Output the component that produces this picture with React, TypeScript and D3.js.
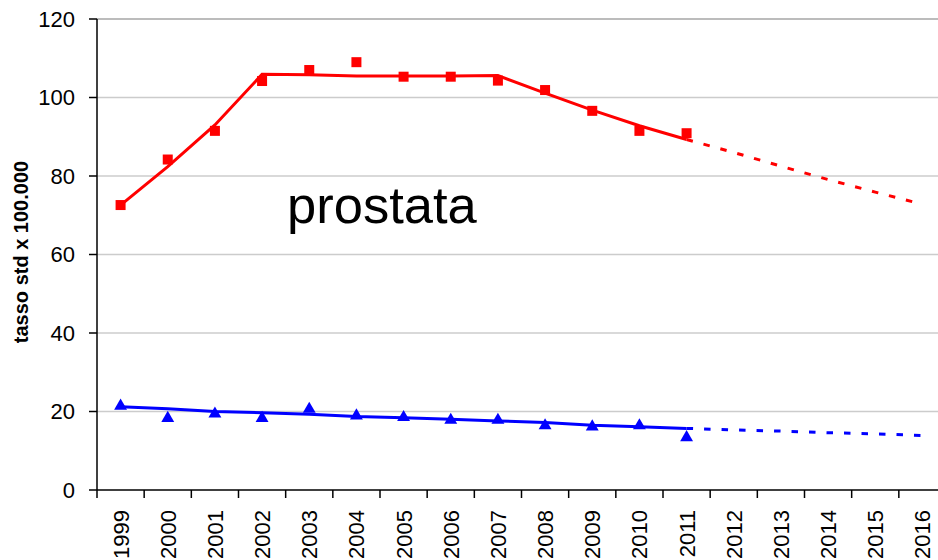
import React from "react";
import * as d3 from "d3";

const years = ["1999","2000","2001","2002","2003","2004","2005","2006","2007","2008","2009","2010","2011","2012","2013","2014","2015","2016"];
const yTicks = [0, 20, 40, 60, 80, 100, 120];

// observed rates (1999-2011)
const redObserved = [72.6, 84.2, 91.5, 104.2, 107.0, 109.0, 105.3, 105.3, 104.3, 101.9, 96.6, 91.5, 90.9];
const blueObserved = [21.4, 18.3, 19.4, 18.3, 20.6, 18.9, 18.5, 17.8, 17.8, 16.4, 16.1, 16.4, 13.4];

// fitted trend (1999-2011) and projection (2011-2016)
const redFit = [72.6, 82.4, 93.0, 105.9, 105.8, 105.5, 105.5, 105.5, 105.6, 101.1, 96.8, 92.8, 89.3];
const redProj = [89.3, 86.0, 82.5, 79.1, 75.9, 72.8];
const blueFit = [21.2, 20.7, 20.0, 19.7, 19.3, 18.7, 18.4, 18.0, 17.6, 17.2, 16.5, 16.1, 15.7];
const blueProj = [15.7, 15.3, 15.0, 14.6, 14.3, 13.9];

const title = "prostata";
const yLabel = "tasso std x 100.000";

const W = 938, H = 560;
const FONT = "Arial, 'Liberation Sans', sans-serif";

export default function App() {
  const x = d3.scaleBand<string>().domain(years).range([97, 946]).padding(0);
  const y = d3.scaleLinear().domain([0, 120]).range([490, 19]);
  const cx = (i: number) => (x(years[i]) as number) + x.bandwidth() / 2;

  const line = d3.line<[number, number]>().x(d => d[0]).y(d => d[1]);
  const fitPts = (arr: number[], offset: number) => arr.map((v, i) => [cx(i + offset), y(v)] as [number, number]);

  const triangle = d3.symbol().type(d3.symbolTriangle).size(72)();

  return (
    <svg width={W} height={H} style={{ position: "absolute", left: 0, top: 0, background: "#fff" }} fontFamily={FONT}>
      {/* gridlines */}
      {yTicks.filter(t => t > 0).map(t => (
        <line key={"g" + t} x1={97} x2={W} y1={y(t)} y2={y(t)} stroke={t === 120 ? "#a6a6a6" : "#cccccc"} strokeWidth={1.5} />
      ))}
      {/* y axis */}
      <line x1={97} x2={97} y1={y(120)} y2={y(0)} stroke="#000" strokeWidth={1.5} />
      {yTicks.map(t => (
        <g key={"yt" + t}>
          <line x1={89} x2={97} y1={y(t)} y2={y(t)} stroke="#000" strokeWidth={1.5} />
          <text x={75} y={y(t)} dy="0.36em" textAnchor="end" fontSize={22} fill="#000">{t}</text>
        </g>
      ))}
      {/* x axis */}
      <line x1={97} x2={W} y1={y(0)} y2={y(0)} stroke="#000" strokeWidth={1.5} />
      {years.map((yr, i) => (
        <g key={"xt" + yr}>
          <line x1={x(yr) as number} x2={x(yr) as number} y1={y(0)} y2={y(0) + 8} stroke="#000" strokeWidth={1.5} />
          <text transform={`translate(${cx(i)},510) rotate(-90)`} dy="0.36em" textAnchor="end" fontSize={22} fill="#000">{yr}</text>
        </g>
      ))}
      {/* y label */}
      <text transform={`translate(28,252) rotate(-90)`} textAnchor="middle" fontSize={20} fontWeight="bold" fill="#000">{yLabel}</text>

      {/* red series */}
      <path d={line(fitPts(redFit, 0)) || ""} fill="none" stroke="#ff0000" strokeWidth={3} />
      <path d={line(fitPts(redProj, 12)) || ""} fill="none" stroke="#ff0000" strokeWidth={3} strokeDasharray="6.5,11" />
      {redObserved.map((v, i) => (
        <rect key={"r" + i} x={cx(i) - 5} y={y(v) - 5} width={10} height={10} fill="#ff0000" />
      ))}

      {/* blue series */}
      <path d={line(fitPts(blueFit, 0)) || ""} fill="none" stroke="#0000ff" strokeWidth={3} />
      <path d={line(fitPts(blueProj, 12)) || ""} fill="none" stroke="#0000ff" strokeWidth={3} strokeDasharray="6.5,11" />
      {blueObserved.map((v, i) => (
        <path key={"b" + i} d={triangle || ""} transform={`translate(${cx(i)},${y(v)})`} fill="#0000ff" />
      ))}

      {/* title */}
      <text x={287} y={223} fontSize={52.5} fill="#000">{title}</text>
    </svg>
  );
}
